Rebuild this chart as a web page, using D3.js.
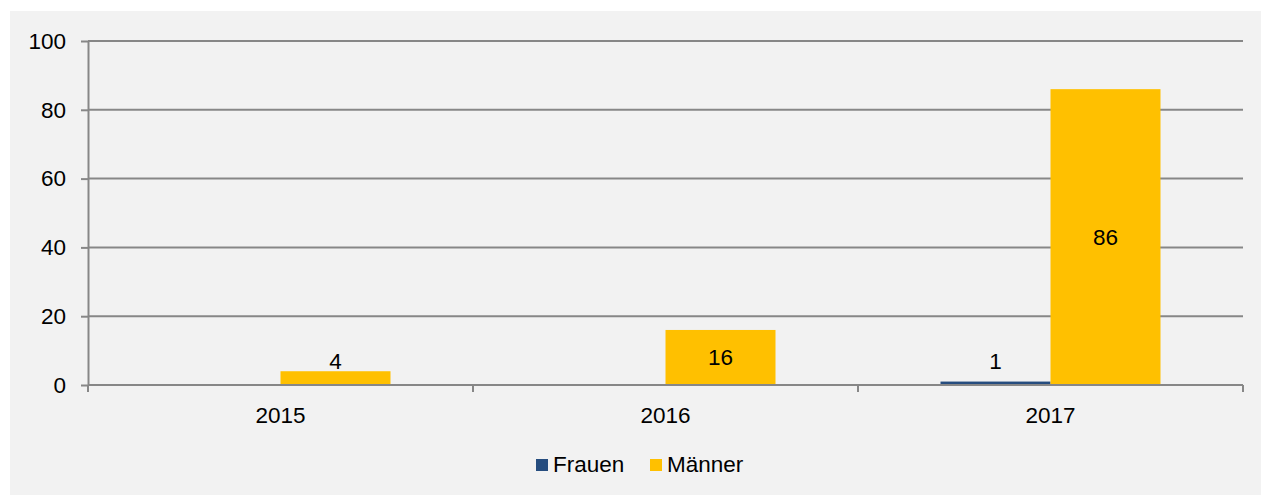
<!DOCTYPE html>
<html>
<head>
<meta charset="utf-8">
<script src="https://cdn.jsdelivr.net/npm/d3@7"></script>
<style>
  html, body { margin: 0; padding: 0; background: #fff; }
  svg { display: block; font-family: "Liberation Sans", Arial, sans-serif; }
</style>
</head>
<body>
<svg class="chart"></svg>
<script>
// values
const years = ["2015", "2016", "2017"];
const seriesNames = ["Frauen", "Männer"];
const frauen = [0, 0, 1];
const maenner = [4, 16, 86];
const yTicks = [0, 20, 40, 60, 80, 100];

const colors = { "Frauen": "#264D7F", "Männer": "#FFC000" };
const fontSize = 22.5;

const width = 1261, height = 495;
const margin = { left: 88, right: 18, top: 41, bottom: 110 };

const svg = d3.select("svg.chart")
    .attr("width", width)
    .attr("height", height);

// gray panel behind everything
svg.append("rect")
    .attr("x", 10).attr("y", 11)
    .attr("width", width - 10).attr("height", height - 11)
    .attr("fill", "#f2f2f2");

const x0 = d3.scaleBand()
    .domain(years)
    .range([margin.left, width - margin.right]);

// gap width 150% -> two bars of 110 px in a 385 px band
const x1 = d3.scaleBand()
    .domain(seriesNames)
    .range([0, x0.bandwidth()])
    .paddingOuter(0.75);

const y = d3.scaleLinear()
    .domain([0, 100])
    .range([height - margin.bottom, margin.top]);

// left axis + ticks
const yAxis = svg.append("g")
    .attr("transform", `translate(${margin.left},0)`)
    .call(d3.axisLeft(y).tickValues(yTicks).tickSize(7).tickSizeOuter(0).tickPadding(15));
yAxis.select(".domain").attr("stroke", "#878787").attr("stroke-width", 2);
yAxis.selectAll(".tick line").attr("stroke", "#878787").attr("stroke-width", 2);
yAxis.selectAll(".tick text").attr("font-size", fontSize).attr("fill", "#000")
    .attr("font-family", "Liberation Sans, Arial, sans-serif");

// gridlines
svg.append("g")
    .selectAll("line")
    .data(yTicks.filter(d => d > 0))
    .join("line")
    .attr("x1", margin.left).attr("x2", width - margin.right)
    .attr("y1", d => y(d)).attr("y2", d => y(d))
    .attr("stroke", "#878787")
    .attr("stroke-width", 2);

// bars
const rows = years.map((yr, i) => ({ year: yr, values: [
    { key: "Frauen", value: frauen[i] },
    { key: "Männer", value: maenner[i] }
]}));

const groups = svg.append("g")
    .selectAll("g")
    .data(rows)
    .join("g")
    .attr("transform", d => `translate(${x0(d.year)},0)`);

groups.selectAll("rect")
    .data(d => d.values.filter(v => v.value > 0))
    .join("rect")
    .attr("x", d => x1(d.key))
    .attr("y", d => y(d.value))
    .attr("width", x1.bandwidth())
    .attr("height", d => y(0) - y(d.value))
    .attr("fill", d => colors[d.key]);

// data labels: centred, or lifted just above the baseline for thin bars
groups.selectAll("text")
    .data(d => d.values.filter(v => v.value > 0))
    .join("text")
    .attr("x", d => x1(d.key) + x1.bandwidth() / 2)
    .attr("y", d => {
        const h = y(0) - y(d.value);
        return h > 30 ? (y(d.value) + y(0)) / 2 + 8 : y(0) - 16;
    })
    .attr("text-anchor", "middle")
    .attr("font-size", fontSize)
    .attr("fill", "#000")
    .text(d => d.value);

// x axis
const xAxis = svg.append("g")
    .attr("transform", `translate(0,${y(0)})`)
    .call(d3.axisBottom(x0).tickSize(0).tickPadding(22));
xAxis.select(".domain").remove();
xAxis.selectAll(".tick text").attr("font-size", fontSize).attr("fill", "#000")
    .attr("font-family", "Liberation Sans, Arial, sans-serif");

svg.append("line")
    .attr("x1", margin.left).attr("x2", width - margin.right)
    .attr("y1", y(0)).attr("y2", y(0))
    .attr("stroke", "#878787").attr("stroke-width", 2);

// category separator ticks
svg.append("g")
    .selectAll("line")
    .data(d3.range(years.length + 1))
    .join("line")
    .attr("x1", i => margin.left + i * x0.step())
    .attr("x2", i => margin.left + i * x0.step())
    .attr("y1", y(0)).attr("y2", y(0) + 7)
    .attr("stroke", "#878787").attr("stroke-width", 2);

// legend
const legend = svg.append("g").attr("transform", "translate(536,459)");
const legendX = [0, 114];
seriesNames.forEach((name, i) => {
    const g = legend.append("g").attr("transform", `translate(${legendX[i]},0)`);
    g.append("rect").attr("width", 12).attr("height", 12).attr("fill", colors[name]);
    g.append("text").attr("x", 17).attr("y", 13)
        .attr("font-size", fontSize).attr("fill", "#000").text(name);
});
</script>
</body>
</html>
